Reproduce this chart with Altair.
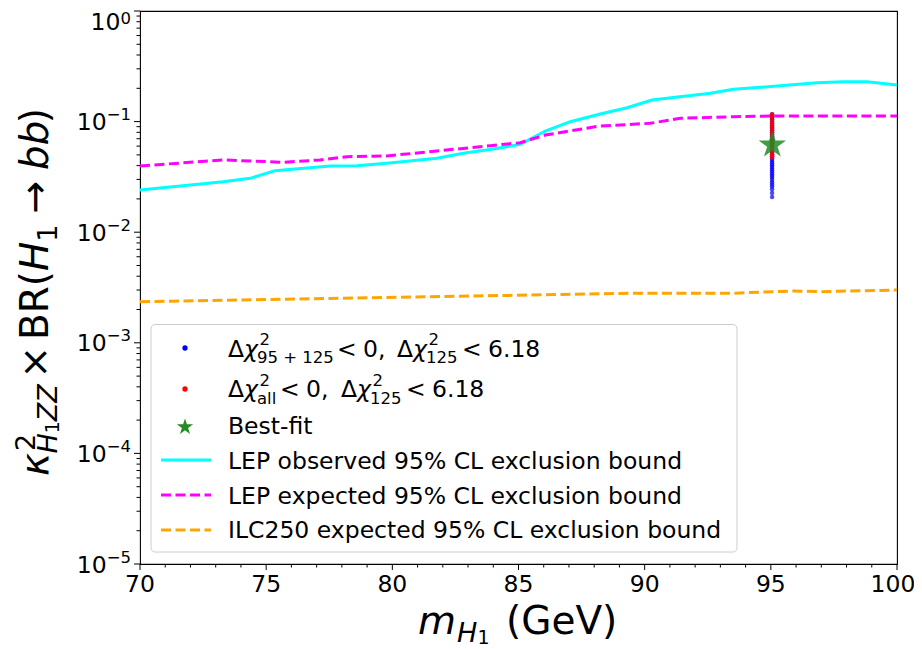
import altair as alt
import pandas as pd

# ---------------- data ----------------
lep_obs_mass = [70.0, 73.29, 74.36, 75.35, 77.53, 78.59, 79.78, 81.76, 82.81, 84.0, 85.07,
                86.06, 87.05, 88.24, 89.30, 90.29, 92.60, 93.52, 95.25, 96.83, 97.87, 98.81, 100.0]
lep_obs_val = [0.0241, 0.0286, 0.0307, 0.0360, 0.0397, 0.0399, 0.0420, 0.0466, 0.0517, 0.0565, 0.0623,
               0.0822, 0.0998, 0.1171, 0.1335, 0.1567, 0.1803, 0.1959, 0.2099, 0.2247, 0.2295, 0.2295, 0.2143]

lep_exp_mass = [70.0, 73.29, 75.67, 77.14, 78.2, 79.78, 81.9, 83.88, 85.07, 86.06, 88.24,
                90.22, 91.41, 93.52, 95.05, 100.0]
lep_exp_val = [0.0397, 0.0450, 0.0429, 0.0450, 0.0482, 0.0489, 0.0546, 0.0605, 0.0645, 0.0756, 0.0913,
               0.0965, 0.1071, 0.1107, 0.1123, 0.1123]

ilc_mass = [70.0, 79.24, 84.95, 89.55, 93.52, 95.92, 96.96, 100.0]
ilc_val = [0.00235, 0.00256, 0.00269, 0.00281, 0.00281, 0.00294, 0.00290, 0.00300]

scan_mass = 95.05
blue_val = [0.0208, 0.0226, 0.0244, 0.0259, 0.0270, 0.0283, 0.0297, 0.0310, 0.0322, 0.0335,
            0.0348, 0.0361, 0.0375, 0.0389, 0.0403, 0.0418, 0.0434, 0.0450, 0.0467, 0.0485,
            0.0504, 0.0524, 0.0544, 0.0565, 0.0587, 0.0610, 0.0634, 0.0658, 0.0684, 0.0710,
            0.0738, 0.0766, 0.0796, 0.0826, 0.0858, 0.0891, 0.0925, 0.0961, 0.0998, 0.1036,
            0.1076, 0.1118, 0.1165]
red_val = [0.0468, 0.0486, 0.0505, 0.0525, 0.0546, 0.0567, 0.0590, 0.0613, 0.0637, 0.0662,
           0.0688, 0.0715, 0.0743, 0.0772, 0.0802, 0.0834, 0.0866, 0.0900, 0.0935, 0.0972,
           0.1010, 0.1050, 0.1090, 0.1130, 0.1165]
best_mass = [95.06]
best_val = [0.0614]

x_major = [70, 75, 80, 85, 90, 95, 100]
x_labels = ["70", "75", "80", "85", "90", "95", "100"]
x_minor = [71, 72, 73, 74, 76, 77, 78, 79, 81, 82, 83, 84, 86, 87, 88, 89, 91, 92, 93, 94, 96, 97, 98, 99]
y_major = [1e-5, 1e-4, 1e-3, 1e-2, 1e-1, 1.0]
y_exps = ["−5", "−4", "−3", "−2", "−1", "0"]
y_minor = [2e-5, 3e-5, 4e-5, 5e-5, 6e-5, 7e-5, 8e-5, 9e-5,
           2e-4, 3e-4, 4e-4, 5e-4, 6e-4, 7e-4, 8e-4, 9e-4,
           2e-3, 3e-3, 4e-3, 5e-3, 6e-3, 7e-3, 8e-3, 9e-3,
           2e-2, 3e-2, 4e-2, 5e-2, 6e-2, 7e-2, 8e-2, 9e-2,
           0.2, 0.3, 0.4, 0.5, 0.6, 0.7, 0.8, 0.9]

FONT = "DejaVu Sans"
W, H = 757, 553
LS, SS = 23.5, 16.5
STAR = ("M0,-1L0.2245,-0.309L0.951,-0.309L0.363,0.118L0.588,0.809L0,0.382"
        "L-0.588,0.809L-0.363,0.118L-0.951,-0.309L-0.2245,-0.309Z")

xs = alt.Scale(domain=[70, 100], nice=False, zero=False)
ys = alt.Scale(type="log", domain=[1e-5, 1], nice=False)


def X(f):
    return alt.X(f, scale=xs, axis=None)


def Y(f):
    return alt.Y(f, scale=ys, axis=None)


def line_layer(mass, val, color, dash=None):
    df = pd.DataFrame({"m": mass, "v": val})
    kw = dict(color=color, strokeWidth=3)
    if dash:
        kw["strokeDash"] = dash
    return alt.Chart(df).mark_line(**kw).encode(x=X("m:Q"), y=Y("v:Q"))


obs = line_layer(lep_obs_mass, lep_obs_val, "#00ffff")
exp = line_layer(lep_exp_mass, lep_exp_val, "#ff00ff", dash=[10, 4.5])
ilc = line_layer(ilc_mass, ilc_val, "#ffa500", dash=[10, 4.5])

blue = alt.Chart(pd.DataFrame({"m": [scan_mass] * len(blue_val), "v": blue_val})).mark_circle(
    color="#0000ff", size=20, opacity=0.7).encode(x=X("m:Q"), y=Y("v:Q"))
red = alt.Chart(pd.DataFrame({"m": [scan_mass] * len(red_val), "v": red_val})).mark_circle(
    color="#ff0000", size=20, opacity=0.7).encode(x=X("m:Q"), y=Y("v:Q"))
star = alt.Chart(pd.DataFrame({"m": best_mass, "v": best_val})).mark_point(
    shape=STAR, filled=True, color="#228b22", size=820, opacity=0.85, strokeWidth=0).encode(
    x=X("m:Q"), y=Y("v:Q"))

# ---------------- ticks and tick labels (driven by the scales) ----------------
xt = pd.DataFrame({"t": x_major, "lab": x_labels})
yt = pd.DataFrame({"t": y_major, "e": y_exps})
ticks = [
    alt.Chart(pd.DataFrame({"t": x_minor})).mark_rule(color="black", strokeWidth=1).encode(
        x=X("t:Q"), y=alt.value(H), y2=alt.value(H + 3.5)),
    alt.Chart(pd.DataFrame({"t": y_minor})).mark_rule(color="black", strokeWidth=1).encode(
        y=Y("t:Q"), x=alt.value(0), x2=alt.value(-3.5)),
    alt.Chart(xt).mark_rule(color="black", strokeWidth=1).encode(
        x=X("t:Q"), y=alt.value(H), y2=alt.value(H + 6)),
    alt.Chart(yt).mark_rule(color="black", strokeWidth=1).encode(
        y=Y("t:Q"), x=alt.value(0), x2=alt.value(-6)),
    alt.Chart(xt).transform_filter("datum.t < 99").mark_text(
        font=FONT, fontSize=LS, align="center", baseline="alphabetic", color="black").encode(
        x=X("t:Q"), y=alt.value(H + 28), text="lab:N"),
    alt.Chart(xt).transform_filter("datum.t > 99").mark_text(
        font=FONT, fontSize=LS, align="center", baseline="alphabetic", color="black", dx=-4).encode(
        x=X("t:Q"), y=alt.value(H + 28), text="lab:N"),
    # y labels: "10" plus a raised exponent
    alt.Chart(yt).transform_filter("datum.t < 0.5").mark_text(
        text="10", font=FONT, fontSize=LS, align="right", baseline="alphabetic", dy=8.5,
        color="black").encode(y=Y("t:Q"), x=alt.value(-33.3)),
    alt.Chart(yt).transform_filter("datum.t < 0.5").mark_text(
        font=FONT, fontSize=SS, align="right", baseline="alphabetic", dy=-1.5,
        color="black").encode(y=Y("t:Q"), x=alt.value(-9), text="e:N"),
    alt.Chart(yt).transform_filter("datum.t > 0.5").mark_text(
        text="10", font=FONT, fontSize=LS, align="right", baseline="alphabetic", dy=19,
        color="black").encode(y=Y("t:Q"), x=alt.value(-19.5)),
    alt.Chart(yt).transform_filter("datum.t > 0.5").mark_text(
        font=FONT, fontSize=SS, align="right", baseline="alphabetic", dy=13,
        color="black").encode(y=Y("t:Q"), x=alt.value(-9), text="e:N"),
]

one = pd.DataFrame({"a": [1]})


def txt(s, x, y, size, italic=False, angle=0, align="left"):
    kw = dict(text=s, font=FONT, fontSize=size, align=align, baseline="alphabetic", color="black")
    if italic:
        kw["fontStyle"] = "italic"
    if angle:
        kw["angle"] = angle
    return alt.Chart(one).mark_text(**kw).encode(x=alt.value(x), y=alt.value(y))


texts = []
# x-axis title: m_{H_1} (GeV)
for s, x, y, sz, it in [("m", 278, 623, 39, True), ("H", 317, 631, 27, True),
                        ("1", 337.5, 633, 19, False), ("(GeV)", 366, 623, 39, False)]:
    texts.append(txt(s, x, y, sz, it))
# y-axis title: kappa^2_{H_1ZZ} x BR(H_1 -> bb), rotated
for s, x, y, sz, it in [("κ", -92, 465, 39, True), ("2", -105, 440, 27, False),
                        ("H", -83, 442.6, 27, True), ("1", -81, 422.3, 19, False),
                        ("ZZ", -83, 410.2, 27, True), ("×", -92, 367.5, 39, False),
                        ("BR(", -92, 329.1, 39, False), ("H", -92, 260, 39, True),
                        ("1", -83, 230.7, 27, False), ("→", -92, 202.7, 39, False),
                        ("bb", -92, 159.2, 39, True), (")", -92, 112.2, 39, False)]:
    texts.append(txt(s, x, y, sz, it, angle=270))

# ---------------- legend ----------------
legend_box = alt.Chart(one).mark_rect(fill="white", fillOpacity=0.8, stroke="#cccccc",
                                      strokeWidth=1, cornerRadius=4).encode(
    x=alt.value(11), x2=alt.value(597), y=alt.value(313.5), y2=alt.value(541))

leg = [legend_box]
leg.append(alt.Chart(one).mark_circle(color="#0000ff", size=28, opacity=1).encode(
    x=alt.value(45), y=alt.value(337)))
leg.append(alt.Chart(one).mark_circle(color="#ff0000", size=28, opacity=1).encode(
    x=alt.value(45), y=alt.value(378)))
leg.append(alt.Chart(one).mark_point(shape=STAR, filled=True, color="#228b22", size=290,
                                     opacity=1, strokeWidth=0).encode(
    x=alt.value(45), y=alt.value(416)))
for yy, col, dash in [(449, "#00ffff", None), (484, "#ff00ff", [10, 4.5]), (519, "#ffa500", [10, 4.5])]:
    kw = dict(color=col, strokeWidth=3)
    if dash:
        kw["strokeDash"] = dash
    leg.append(alt.Chart(one).mark_rule(**kw).encode(x=alt.value(21), x2=alt.value(71), y=alt.value(yy)))

row1 = [("Δ", 88, 346, LS, False), ("χ", 104, 346, LS, True), ("2", 119.5, 334, SS, False),
        ("95 + 125", 117, 352, SS, False), ("<", 197, 346, LS, False), ("0,", 223, 346, LS, False),
        ("Δ", 257, 346, LS, False), ("χ", 273, 346, LS, True), ("2", 288.5, 334, SS, False),
        ("125", 286, 352, SS, False), ("<", 322, 346, LS, False), ("6.18", 348, 346, LS, False)]
row2 = [("Δ", 88, 386, LS, False), ("χ", 104, 386, LS, True), ("2", 119.5, 375, SS, False),
        ("all", 117, 393, SS, False), ("<", 140, 386, LS, False), ("0,", 166, 386, LS, False),
        ("Δ", 201, 386, LS, False), ("χ", 217, 386, LS, True), ("2", 232.5, 375, SS, False),
        ("125", 230, 393, SS, False), ("<", 266, 386, LS, False), ("6.18", 292, 386, LS, False)]
for s, x, y, sz, it in row1 + row2:
    leg.append(txt(s, x, y, sz, it))
for s, y in [("Best-fit", 423), ("LEP observed 95% CL exclusion bound", 458),
             ("LEP expected 95% CL exclusion bound", 492.5),
             ("ILC250 expected 95% CL exclusion bound", 527)]:
    leg.append(txt(s, 88, y, LS))

chart = alt.layer(obs, exp, ilc, blue, red, star, *ticks, *texts, *leg).properties(
    width=W, height=H,
    padding={"left": 132, "top": 3, "right": 17, "bottom": 85},
    autosize=alt.AutoSizeParams(type="none"),
    background="white",
).configure_view(stroke="black", strokeWidth=1.1)

chart.save("out.html", embed_options={"renderer": "svg", "actions": False})
